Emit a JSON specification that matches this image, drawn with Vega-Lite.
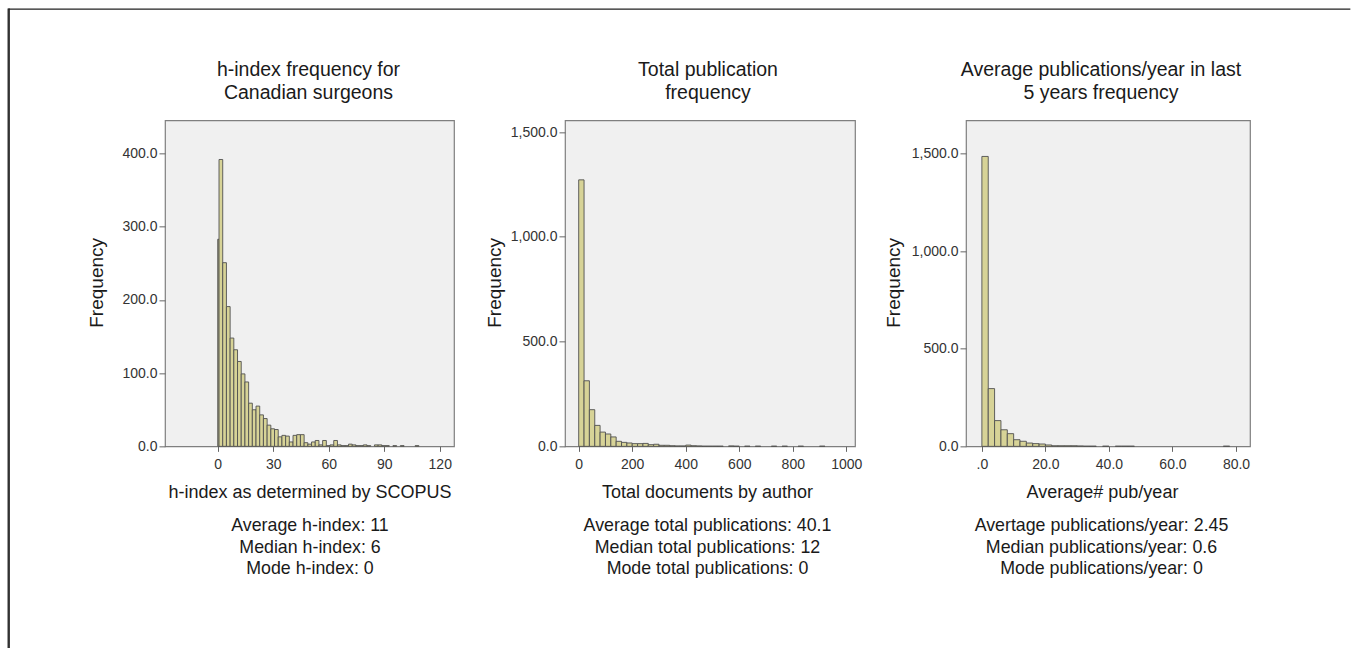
{
  "$schema": "https://vega.github.io/schema/vega-lite/v6.json",
  "background": "white",
  "padding": {"left": 7, "top": 8, "right": 0, "bottom": 0},
  "bounds": "flush",
  "spacing": 0,
  "hconcat": [
    {
      "width": 0.01,
      "height": 650,
      "data": {"values": []},
      "mark": "point",
      "encoding": {},
      "view": {"stroke": "#222222", "strokeWidth": 1.3, "fill": null}
    },
    {
      "bounds": "flush",
      "spacing": 110.35,
      "vconcat": [
        {
          "width": 1340.5,
          "height": 0.01,
          "data": {"values": []},
          "mark": "point",
          "encoding": {},
          "view": {"stroke": "#222222", "strokeWidth": 1.3, "fill": null}
        },
        {
          "bounds": "flush",
          "spacing": 111,
          "hconcat": [
            {
              "width": 44.35,
              "height": 326,
              "data": {"values": []},
              "mark": "point",
              "encoding": {},
              "view": {"stroke": null, "fill": null}
            },
            {
              "width": 289,
              "height": 326,
              "title": {"text": ["h-index frequency for", "Canadian surgeons"], "dx": -1},
              "data": {"values": [
                {"lo": 0, "hi": 0.7, "n": 283},
                {"lo": 0.7, "hi": 2.7, "n": 392},
                {"lo": 2.7, "hi": 4.7, "n": 251},
                {"lo": 4.7, "hi": 6.7, "n": 191},
                {"lo": 6.7, "hi": 8.7, "n": 148},
                {"lo": 8.7, "hi": 10.7, "n": 132},
                {"lo": 10.7, "hi": 12.7, "n": 116},
                {"lo": 12.7, "hi": 14.7, "n": 99},
                {"lo": 14.7, "hi": 16.7, "n": 88},
                {"lo": 16.7, "hi": 18.7, "n": 59},
                {"lo": 18.7, "hi": 20.7, "n": 50},
                {"lo": 20.7, "hi": 22.7, "n": 55},
                {"lo": 22.7, "hi": 24.7, "n": 43},
                {"lo": 24.7, "hi": 26.7, "n": 38},
                {"lo": 26.7, "hi": 28.7, "n": 29},
                {"lo": 28.7, "hi": 30.7, "n": 24},
                {"lo": 30.7, "hi": 32.7, "n": 23},
                {"lo": 32.7, "hi": 34.7, "n": 13},
                {"lo": 34.7, "hi": 36.7, "n": 15},
                {"lo": 36.7, "hi": 38.7, "n": 14},
                {"lo": 38.7, "hi": 40.7, "n": 6},
                {"lo": 40.7, "hi": 42.7, "n": 15},
                {"lo": 42.7, "hi": 44.7, "n": 16},
                {"lo": 44.7, "hi": 46.7, "n": 16},
                {"lo": 46.7, "hi": 48.7, "n": 5},
                {"lo": 48.7, "hi": 50.7, "n": 3},
                {"lo": 50.7, "hi": 52.7, "n": 6},
                {"lo": 52.7, "hi": 54.7, "n": 8},
                {"lo": 54.7, "hi": 56.7, "n": 2},
                {"lo": 56.7, "hi": 58.7, "n": 8},
                {"lo": 58.7, "hi": 60.7, "n": 1},
                {"lo": 60.7, "hi": 62.7, "n": 2},
                {"lo": 62.7, "hi": 64.7, "n": 8},
                {"lo": 64.7, "hi": 66.7, "n": 2},
                {"lo": 66.7, "hi": 68.7, "n": 1},
                {"lo": 68.7, "hi": 70.7, "n": 1},
                {"lo": 70.7, "hi": 72.7, "n": 3},
                {"lo": 72.7, "hi": 74.7, "n": 2},
                {"lo": 74.7, "hi": 76.7, "n": 1},
                {"lo": 76.7, "hi": 78.7, "n": 1},
                {"lo": 78.7, "hi": 80.7, "n": 2},
                {"lo": 80.7, "hi": 82.7, "n": 1},
                {"lo": 84.7, "hi": 86.7, "n": 2},
                {"lo": 86.7, "hi": 88.7, "n": 2},
                {"lo": 88.7, "hi": 90.7, "n": 1},
                {"lo": 90.7, "hi": 92.7, "n": 1},
                {"lo": 94.7, "hi": 96.7, "n": 1},
                {"lo": 98.7, "hi": 100.7, "n": 1},
                {"lo": 106.7, "hi": 108.7, "n": 1}
              ]},
              "layer": [
                {
                  "mark": {"type": "bar", "fill": "#d7d397", "stroke": "#505050", "strokeWidth": 0.9},
                  "encoding": {
                    "x": {"field": "lo", "type": "quantitative",
                      "scale": {"domain": [-28.5, 127.7], "nice": false, "zero": false},
                      "axis": {"orient": "bottom", "values": [0, 30, 60, 90, 120], "format": "d", "tickSize": 5, "labelPadding": 6,
                        "title": "h-index as determined by SCOPUS", "titleFontSize": 18, "titleY": 51.5, "titleBaseline": "alphabetic"}},
                    "x2": {"field": "hi"},
                    "y": {"field": "n", "type": "quantitative",
                      "scale": {"domain": [0, 445.5], "nice": false},
                      "axis": {"values": [0, 100, 200, 300, 400], "format": ".1f", "tickSize": 6, "labelPadding": 2,
                        "title": "Frequency", "titleFontSize": 19, "titleX": -69, "titleY": 162, "titleBaseline": "middle"}},
                    "y2": {"datum": 0}
                  }
                },
                {
                  "data": {"values": []},
                  "mark": "rule",
                  "encoding": {
                    "x": {"field": "lo", "type": "quantitative",
                      "axis": {"orient": "bottom", "labels": false, "ticks": false, "domain": false,
                        "title": ["Average h-index: 11", "Median h-index: 6", "Mode h-index: 0"],
                        "titleFontSize": 17.8, "titleLineHeight": 21.5, "titleY": 84.4, "titleBaseline": "alphabetic"}}
                  }
                }
              ],
              "resolve": {"axis": {"x": "independent"}}
            },
            {
              "width": 290,
              "height": 326,
              "title": {"text": ["Total publication", "frequency"], "dx": -2},
              "data": {"values": [
                {"lo": 0, "hi": 20, "n": 1272},
                {"lo": 20, "hi": 40, "n": 313},
                {"lo": 40, "hi": 60, "n": 175},
                {"lo": 60, "hi": 80, "n": 100},
                {"lo": 80, "hi": 100, "n": 68},
                {"lo": 100, "hi": 120, "n": 59},
                {"lo": 120, "hi": 140, "n": 45},
                {"lo": 140, "hi": 160, "n": 24},
                {"lo": 160, "hi": 180, "n": 19},
                {"lo": 180, "hi": 200, "n": 16},
                {"lo": 200, "hi": 220, "n": 13},
                {"lo": 220, "hi": 240, "n": 13},
                {"lo": 240, "hi": 260, "n": 14},
                {"lo": 260, "hi": 280, "n": 8},
                {"lo": 280, "hi": 300, "n": 10},
                {"lo": 300, "hi": 320, "n": 5},
                {"lo": 320, "hi": 340, "n": 5},
                {"lo": 340, "hi": 360, "n": 3},
                {"lo": 360, "hi": 380, "n": 2},
                {"lo": 380, "hi": 400, "n": 2},
                {"lo": 400, "hi": 420, "n": 6},
                {"lo": 420, "hi": 440, "n": 3},
                {"lo": 440, "hi": 460, "n": 2},
                {"lo": 460, "hi": 480, "n": 1},
                {"lo": 480, "hi": 500, "n": 1},
                {"lo": 500, "hi": 520, "n": 1},
                {"lo": 520, "hi": 540, "n": 1},
                {"lo": 560, "hi": 580, "n": 2},
                {"lo": 580, "hi": 600, "n": 1},
                {"lo": 620, "hi": 640, "n": 1},
                {"lo": 660, "hi": 680, "n": 1},
                {"lo": 720, "hi": 740, "n": 1},
                {"lo": 760, "hi": 780, "n": 1},
                {"lo": 820, "hi": 840, "n": 1},
                {"lo": 900, "hi": 920, "n": 1}
              ]},
              "layer": [
                {
                  "mark": {"type": "bar", "fill": "#d7d397", "stroke": "#505050", "strokeWidth": 0.9},
                  "encoding": {
                    "x": {"field": "lo", "type": "quantitative",
                      "scale": {"domain": [-51.2, 1032.5], "nice": false, "zero": false},
                      "axis": {"orient": "bottom", "values": [0, 200, 400, 600, 800, 1000], "format": "d", "tickSize": 5, "labelPadding": 6,
                        "title": "Total documents by author", "titleFontSize": 18, "titleY": 51.5, "titleBaseline": "alphabetic", "titleX": 142}},
                    "x2": {"field": "hi"},
                    "y": {"field": "n", "type": "quantitative",
                      "scale": {"domain": [0, 1556], "nice": false},
                      "axis": {"values": [0, 500, 1000, 1500], "format": ",.1f", "tickSize": 6, "labelPadding": 2,
                        "title": "Frequency", "titleFontSize": 19, "titleX": -71, "titleY": 162, "titleBaseline": "middle"}},
                    "y2": {"datum": 0}
                  }
                },
                {
                  "data": {"values": []},
                  "mark": "rule",
                  "encoding": {
                    "x": {"field": "lo", "type": "quantitative",
                      "axis": {"orient": "bottom", "labels": false, "ticks": false, "domain": false,
                        "title": ["Average total publications: 40.1", "Median total publications: 12", "Mode total publications: 0"],
                        "titleFontSize": 17.8, "titleLineHeight": 21.5, "titleY": 84.4, "titleBaseline": "alphabetic", "titleX": 142}}
                  }
                }
              ],
              "resolve": {"axis": {"x": "independent"}}
            },
            {
              "width": 284,
              "height": 326,
              "title": {"text": ["Average publications/year in last", "5 years frequency"], "dx": -7},
              "data": {"values": [
                {"lo": 0, "hi": 2, "n": 1486},
                {"lo": 2, "hi": 4, "n": 296},
                {"lo": 4, "hi": 6, "n": 132},
                {"lo": 6, "hi": 8, "n": 85},
                {"lo": 8, "hi": 10, "n": 65},
                {"lo": 10, "hi": 12, "n": 34},
                {"lo": 12, "hi": 14, "n": 26},
                {"lo": 14, "hi": 16, "n": 17},
                {"lo": 16, "hi": 18, "n": 14},
                {"lo": 18, "hi": 20, "n": 12},
                {"lo": 20, "hi": 22, "n": 7},
                {"lo": 22, "hi": 24, "n": 3},
                {"lo": 24, "hi": 26, "n": 3},
                {"lo": 26, "hi": 28, "n": 3},
                {"lo": 28, "hi": 30, "n": 3},
                {"lo": 30, "hi": 32, "n": 2},
                {"lo": 32, "hi": 34, "n": 1},
                {"lo": 34, "hi": 36, "n": 1},
                {"lo": 38, "hi": 40, "n": 1},
                {"lo": 42, "hi": 44, "n": 1},
                {"lo": 44, "hi": 46, "n": 1},
                {"lo": 46, "hi": 48, "n": 1},
                {"lo": 76, "hi": 78, "n": 1}
              ]},
              "layer": [
                {
                  "mark": {"type": "bar", "fill": "#d7d397", "stroke": "#505050", "strokeWidth": 0.9},
                  "encoding": {
                    "x": {"field": "lo", "type": "quantitative",
                      "scale": {"domain": [-5.0, 84.4], "nice": false, "zero": false},
                      "axis": {"orient": "bottom", "values": [0, 20, 40, 60, 80], "labelExpr": "datum.value == 0 ? '.0' : format(datum.value, '.1f')", "tickSize": 5, "labelPadding": 6,
                        "title": "Average# pub/year", "titleFontSize": 18, "titleY": 51.5, "titleBaseline": "alphabetic", "titleX": 136}},
                    "x2": {"field": "hi"},
                    "y": {"field": "n", "type": "quantitative",
                      "scale": {"domain": [0, 1671], "nice": false},
                      "axis": {"values": [0, 500, 1000, 1500], "format": ",.1f", "tickSize": 6, "labelPadding": 2,
                        "title": "Frequency", "titleFontSize": 19, "titleX": -73, "titleY": 162, "titleBaseline": "middle"}},
                    "y2": {"datum": 0}
                  }
                },
                {
                  "data": {"values": []},
                  "mark": "rule",
                  "encoding": {
                    "x": {"field": "lo", "type": "quantitative",
                      "axis": {"orient": "bottom", "labels": false, "ticks": false, "domain": false,
                        "title": ["Avertage publications/year: 2.45", "Median publications/year: 0.6", "Mode publications/year: 0"],
                        "titleFontSize": 17.8, "titleLineHeight": 21.5, "titleY": 84.4, "titleBaseline": "alphabetic", "titleX": 135}}
                  }
                }
              ],
              "resolve": {"axis": {"x": "independent"}}
            }
          ]
        }
      ]
    },
    {
      "width": 0.01,
      "height": 650,
      "data": {"values": []},
      "mark": "point",
      "encoding": {},
      "view": {"stroke": "#222222", "strokeWidth": 1.3, "fill": null}
    }
  ],
  "config": {
    "font": "Liberation Sans",
    "view": {"stroke": "#7f7f7f", "fill": "#f0f0f0", "strokeWidth": 1.2},
    "axis": {
      "labelFont": "Liberation Sans", "titleFont": "Liberation Sans",
      "labelFontSize": 14, "labelColor": "#333333", "titleColor": "#1a1a1a",
      "titleFontWeight": "normal", "tickColor": "#666666", "grid": false, "domain": false
    },
    "title": {"font": "Liberation Sans", "fontWeight": "normal", "fontSize": 19.5, "color": "#1a1a1a", "lineHeight": 23, "offset": 17, "baseline": "bottom", "anchor": "middle"}
  }
}
